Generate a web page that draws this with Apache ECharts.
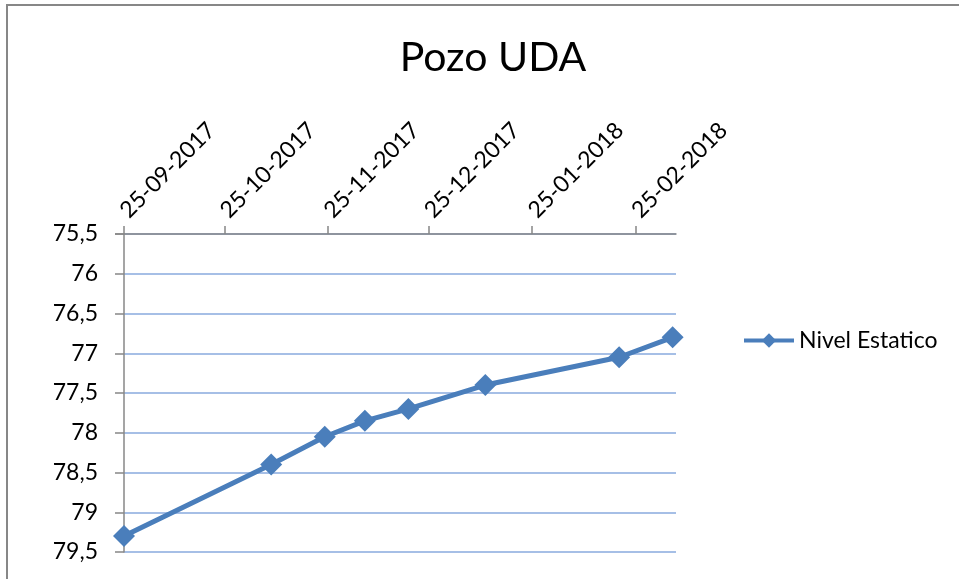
<!DOCTYPE html>
<html>
<head>
<meta charset="utf-8">
<script src="https://cdn.jsdelivr.net/npm/echarts@6/dist/echarts.min.js"></script>
<style>
html,body{margin:0;padding:0;background:#fff;}
#chart{width:959px;height:579px;}
</style>
</head>
<body>
<div id="chart"></div>
<script>
const dates = ['2017-11-08','2017-11-24','2017-12-06','2017-12-19','2018-01-11','2018-02-20','2018-03-08'];
const firstDate = '2017-09-25';
const allDates = [firstDate].concat(dates);
const nivel = [79.3, 78.4, 78.05, 77.85, 77.7, 77.4, 77.05, 76.8];
const tickDates = ['2017-09-25','2017-10-25','2017-11-25','2017-12-25','2018-01-25','2018-02-25'];
const axisMin = '2017-09-25';
const axisMax = '2018-03-09';
const seriesName = 'Nivel Estatico';
const titleText = 'Pozo UDA';

const ts = d => { const p = d.split('-').map(Number); return Date.UTC(p[0], p[1]-1, p[2]); };
const fmt = v => { const d = new Date(v); const dd = String(d.getUTCDate()).padStart(2,'0'); const mm = String(d.getUTCMonth()+1).padStart(2,'0'); return dd+'-'+mm+'-'+d.getUTCFullYear(); };

const chart = echarts.init(document.getElementById('chart'));
const font = 'Lato, "Open Sans", sans-serif';
chart.setOption({
  animation: false,
  backgroundColor: '#fff',
  title: {
    text: titleText, left: 488, top: 32, textAlign: 'center',
    textStyle: { fontFamily: font, fontSize: 41, fontWeight: 'normal', color: '#000' }
  },
  legend: {
    data: [seriesName], left: 737, top: 324, itemWidth: 50, itemHeight: 18, itemGap: 8,
    lineStyle: { width: 4 },
    textStyle: { fontFamily: font, fontSize: 23, color: '#000' }
  },
  graphic: [{
    type: 'polyline', shape: { points: [[7,579],[7,5],[959,5]] },
    style: { stroke: '#878787', lineWidth: 2, fill: null }, silent: true
  }, {
    type: 'line', shape: { x1: 115, y1: 234, x2: 124, y2: 234 },
    style: { stroke: '#878787', lineWidth: 1.5 }, silent: true
  }],
  grid: { left: 124, right: 283, top: 234, bottom: 27 },
  xAxis: {
    type: 'value', position: 'top', min: ts(axisMin), max: ts(axisMax),
    axisLine: { show: true, onZero: false, lineStyle: { color: '#878787', width: 1.5 } },
    axisTick: { show: true, inside: false, length: 8, customValues: tickDates.map(ts), lineStyle: { color: '#878787', width: 1.5 } },
    axisLabel: { customValues: tickDates.map(ts), rotate: -45, margin: 20, formatter: v => fmt(v),
      fontFamily: font, fontSize: 23, color: '#000', hideOverlap: false },
    splitLine: { show: false }
  },
  yAxis: {
    type: 'value', inverse: true, min: 75.5, max: 79.5, interval: 0.5,
    axisLine: { show: true, lineStyle: { color: '#878787', width: 1.5 } },
    axisTick: { show: true, length: 9, lineStyle: { color: '#878787', width: 1.5 } },
    axisLabel: { margin: 26, fontFamily: font, fontSize: 23, color: '#000',
      formatter: v => String(v).replace('.', ',') },
    splitLine: { show: true, lineStyle: { color: '#A6BFE6', width: 2 } }
  },
  series: [{
    name: seriesName, type: 'line',
    data: allDates.map((d, i) => [ts(d), nivel[i]]),
    symbol: 'diamond', symbolSize: 22, showSymbol: true,
    lineStyle: { color: '#4A7EBB', width: 5 },
    itemStyle: { color: '#4A7EBB' },
    z: 5
  }]
});
</script>
</body>
</html>
